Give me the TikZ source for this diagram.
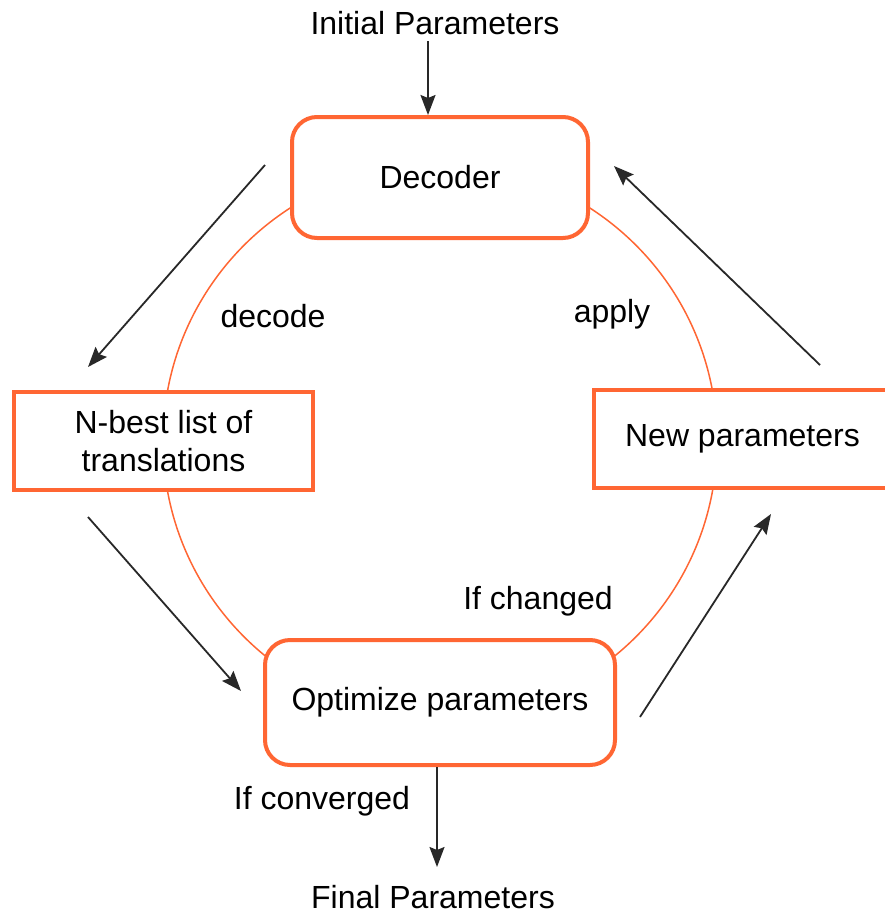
\documentclass[tikz,border=0pt]{standalone}
\usepackage{fontspec}
\setmainfont{Liberation Sans}
\usetikzlibrary{arrows.meta}
\definecolor{boxorange}{RGB}{255,102,51}
\definecolor{arrowgray}{RGB}{40,40,40}
\begin{document}
\begin{tikzpicture}[x=1pt,y=-1pt,
  lbl/.style={font=\fontsize{32}{38}\selectfont, inner sep=0pt},
  roundbox/.style={draw=boxorange, line width=4pt, fill=white, rounded corners=25pt, font=\fontsize{32}{38}\selectfont, inner sep=0pt},
  sqbox/.style={draw=boxorange, line width=4pt, fill=white, font=\fontsize{32}{38}\selectfont, inner sep=0pt, align=center},
  flow/.style={draw=arrowgray, line width=1.8pt, -{Stealth[length=20pt,width=15pt,inset=3pt]}}]
\useasboundingbox (0,0) rectangle (885,916);
\clip (0,0) rectangle (885,916);
\fill[white] (0,0) rectangle (885,916);
% ring
\draw[boxorange, line width=1.5pt] (440,441) circle[radius=277];
% boxes
\node[roundbox, minimum width=296pt, minimum height=121pt] (dec) at (440,177.5) {Decoder};
\node[sqbox, minimum width=299pt, minimum height=98pt] (nbest) at (163.5,441) {N-best list of\\translations};
\node[sqbox, minimum width=297pt, minimum height=98pt] (newp) at (742.5,439) {New parameters};
\node[roundbox, minimum width=350pt, minimum height=125pt] (opt) at (440,702.5) {Optimize parameters};
% labels
\node[lbl] (init) at (435,23) {Initial Parameters};
\node[lbl] (final) at (433,897) {Final Parameters};
\node[lbl] (ldecode) at (273,316) {decode};
\node[lbl] (lapply) at (612,314) {apply};
\node[lbl] (lchanged) at (538,601) {If changed};
\node[lbl] (lconv) at (322,801) {If converged};
% free arrow ends
\coordinate (a1s) at (428,41);
\coordinate (a2s) at (265,165);
\coordinate (a2e) at (88,367);
\coordinate (a3s) at (820,365);
\coordinate (a3e) at (614,166);
\coordinate (a4s) at (88,517);
\coordinate (a4e) at (241,691);
\coordinate (a5s) at (640,717);
\coordinate (a5e) at (771,514);
\coordinate (a6e) at (437,867);
% arrows
\draw[flow] (a1s) -- (a1s |- dec.north);
\draw[flow] (a2s) -- (a2e);
\draw[flow] (a3s) -- (a3e);
\draw[flow] (a4s) -- (a4e);
\draw[flow] (a5s) -- (a5e);
\draw[flow] (opt.south -| a6e) -- (a6e);
\end{tikzpicture}
\end{document}
